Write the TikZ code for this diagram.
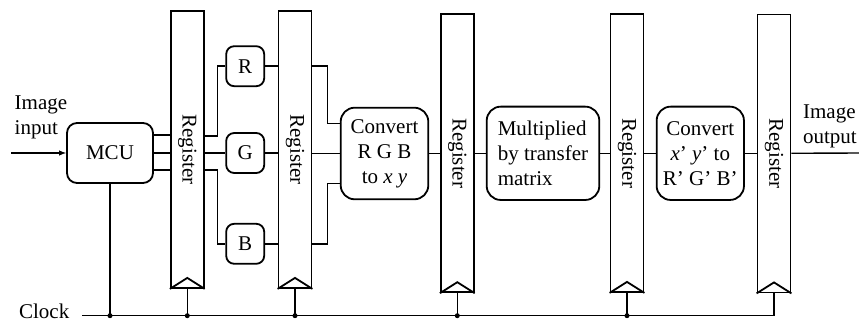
\documentclass[tikz,border=0pt]{standalone}
\usepackage{fontspec}
\setmainfont{Liberation Serif}
\usetikzlibrary{positioning, calc}

\begin{document}
\begin{tikzpicture}[
    x = 1pt, y = -1pt, > = latex, line width = 1.4pt,
    font = \fontsize{21}{25}\selectfont,
    register/.style = {rectangle, draw, line width = 1.8pt, minimum width = 33pt, inner sep = 0pt},
    block/.style = {rectangle, draw, line width = 1.8pt, rounded corners = 14pt, align = center, inner sep = 2pt},
    channel/.style = {rectangle, draw, line width = 1.8pt, rounded corners = 8pt, minimum width = 38pt, minimum height = 40pt, inner sep = 0pt},
    dot/.style = {circle, fill, inner sep = 0pt, minimum size = 5pt},
    txt/.style = {inner sep = 0pt, align = left},
    ]
    \useasboundingbox (0,0) rectangle (859,323);

    % registers
    \node [register, minimum height = 277pt] (reg1) at (187.3,149.5) {};
    \node [register, minimum height = 277pt] (reg2) at (295,149.5) {};
    \node [register, minimum height = 278pt] (reg3) at (457.3,153.3) {};
    \node [register, minimum height = 278pt] (reg4) at (627,153) {};
    \node [register, minimum height = 278pt] (reg5) at (774,153.5) {};
    \foreach \r in {reg1,reg2,reg3,reg4,reg5} {
        \node [rotate = -90] (\r-text) at (\r) {Register};
        \draw [line width = 1.8pt] (\r.south west) -- ([yshift = 11pt]\r.south) -- (\r.south east);
    }

    % processing blocks
    \node [block, rounded corners = 10pt, minimum width = 86pt, minimum height = 60pt] (mcu) at (110,153) {MCU};
    \node [channel] (G) at (245.2,153) {G};
    \node [channel] (R) [above = 45pt of G] {R};
    \node [channel] (B) [below = 49pt of G] {B};
    \node [block, minimum width = 87.6pt, minimum height = 91.6pt] (conv1) at (384.5,153.5) {Convert\\R G B\\to \textit{x} \textit{y}};
    \node [block, align = left, minimum width = 112.6pt, minimum height = 93.3pt] (mult) at (543,153.3) {Multiplied\\by transfer\\matrix};
    \node [block, minimum width = 87.3pt, minimum height = 93.3pt] (conv2) at (700.3,153.3) {Convert\\\textit{x}’ \textit{y}’ to\\R’ G’ B’};

    % input and output
    \coordinate (imgin) at (11,153);
    \coordinate (imgout) at (859,153);
    \draw [->] (imgin) -- (mcu.west);
    \node [txt] (intext) [above right = 13pt and 3pt of imgin] {Image\\input};
    \node [txt] (outtext) [above right = 5pt and 11pt of reg5.east] {Image\\output};

    % data paths
    \draw ($(mcu.east)+(0,-18)$) -- ($(mcu.east -| reg1.west)+(0,-18)$);
    \draw (mcu.east) -- (mcu.east -| reg1.west);
    \draw ($(mcu.east)+(0,17)$) -- ($(mcu.east -| reg1.west)+(0,17)$);

    \draw ($(G.west -| reg1.east)+(0,-17)$) -- ++(12.7,0) |- (R.west);
    \draw (G.west -| reg1.east) -- (G.west);
    \draw ($(G.west -| reg1.east)+(0,17)$) -- ++(12.7,0) |- (B.west);

    \draw (R.east) -- (R.east -| reg2.west);
    \draw (G.east) -- (G.east -| reg2.west);
    \draw (B.east) -- (B.east -| reg2.west);

    \draw (R.east -| reg2.east) -- ++(15,0) |- ($(conv1.west)+(0,-30)$);
    \draw (conv1.west -| reg2.east) -- (conv1.west);
    \draw (B.east -| reg2.east) -- ++(15,0) |- ($(conv1.west)+(0,30)$);

    \draw (conv1.east) -- (conv1.east -| reg3.west);
    \draw (mult.west -| reg3.east) -- (mult.west);
    \draw (mult.east) -- (mult.east -| reg4.west);
    \draw (conv2.west -| reg4.east) -- (conv2.west);
    \draw (conv2.east) -- (conv2.east -| reg5.west);
    \draw (conv2.east -| reg5.east) -- (imgout);

    % clock distribution
    \coordinate (clk) at (82,315.7);
    \node [anchor = base east, inner sep = 1pt] (clocklabel) at ($(clk)+(-11,3)$) {Clock};
    \draw (clk) -| (reg5.south);
    \foreach \n in {mcu,reg1,reg2,reg3,reg4} {
        \draw (\n.south) -- (\n.south |- clk) node [dot] (\n-dot) {};
    }
\end{tikzpicture}
\end{document}
